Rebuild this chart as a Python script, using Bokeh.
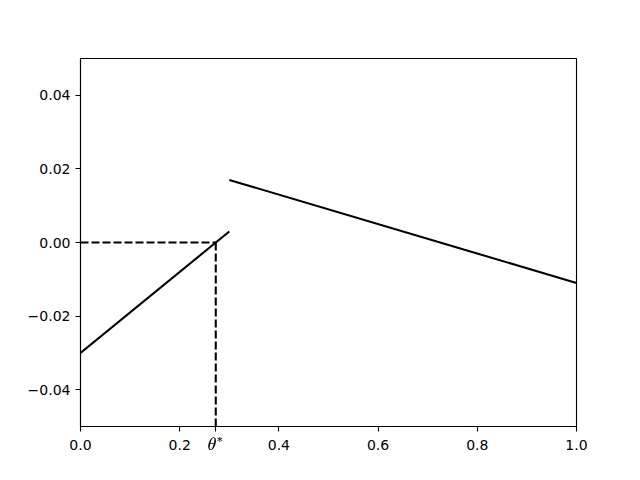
from bokeh.plotting import figure
from bokeh.models import FixedTicker, Range1d, TeX
from bokeh.embed import file_html
from bokeh.resources import INLINE

# data
left_x = [0.0, 0.3]
left_y = [-0.03, 0.003]
right_x = [0.3, 1.0]
right_y = [0.017, -0.011]
theta_star = 0.2727
x_ticks = [0.0, 0.2, 0.4, 0.6, 0.8, 1.0]
y_ticks = [-0.04, -0.02, 0.0, 0.02, 0.04]
x_range = (0.0, 1.0)
y_range = (-0.05, 0.05)

FONT = "DejaVu Sans"

p = figure(output_backend="svg", toolbar_location=None,
           frame_width=496, frame_height=368,
           min_border_left=80, min_border_right=48,
           min_border_top=58, min_border_bottom=46,
           x_range=Range1d(*x_range), y_range=Range1d(*y_range))
p.background_fill_color = "white"
p.border_fill_color = "white"
p.outline_line_color = "black"
p.outline_line_alpha = 1.0
p.outline_line_width = 1.1
p.xgrid.visible = False
p.ygrid.visible = False

all_x_ticks = sorted(x_ticks + [theta_star])
p.xaxis.ticker = FixedTicker(ticks=all_x_ticks)
overrides = {theta_star: TeX(text=r"\theta^*")}
for t in x_ticks:
    overrides[t] = f"{t:.1f}"
p.xaxis.major_label_overrides = overrides
p.yaxis.ticker = FixedTicker(ticks=y_ticks)
p.yaxis.major_label_overrides = {t: (f"{t:.2f}".replace("-", "\u2212")) for t in y_ticks}

for ax in (p.xaxis[0], p.yaxis[0]):
    ax.axis_line_color = "black"
    ax.axis_line_width = 1.1
    ax.major_tick_line_color = "black"
    ax.major_tick_line_width = 1.1
    ax.major_tick_out = 5
    ax.major_tick_in = 0
    ax.minor_tick_line_color = None
    ax.major_label_text_font = FONT
    ax.major_label_text_font_size = "14px"
    ax.major_label_text_color = "black"
    ax.major_label_standoff = 5

p.line(left_x, left_y, line_color="black", line_width=2.1)
p.line(right_x, right_y, line_color="black", line_width=2.1)
p.line([x_range[0], theta_star], [0.0, 0.0], line_color="black", line_width=2.1, line_dash="8 3")
p.line([theta_star, theta_star], [y_range[0], 0.0], line_color="black", line_width=2.1, line_dash="8 3")

open("out.html", "w").write(file_html(p, INLINE))
